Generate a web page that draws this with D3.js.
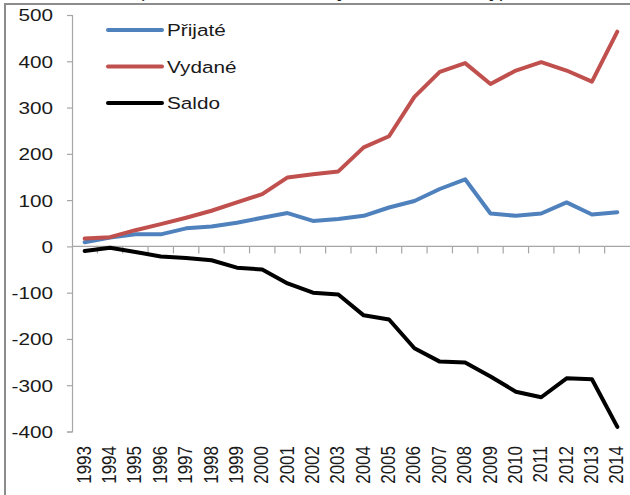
<!DOCTYPE html>
<html lang="cs">
<head>
<meta charset="utf-8">
<title>Přijaté, vydané, saldo</title>
<script src="https://d3js.org/d3.v7.min.js"></script>
<style>
  body { margin: 0; background: #fff; }
  svg text { font-family: "Liberation Sans", Arial, sans-serif; fill: #1a1a1a; }
</style>
</head>
<body>
<svg id="chart" width="630" height="495"></svg>
<script>
// data
var years = ["1993","1994","1995","1996","1997","1998","1999","2000","2001","2002","2003",
             "2004","2005","2006","2007","2008","2009","2010","2011","2012","2013","2014"];
var prijate = [9, 19, 26, 26, 39, 43, 51, 62, 72, 55, 59, 66, 84, 98, 124, 145, 71, 66, 71, 95, 69, 74];
var vydane  = [17, 20, 35, 48, 62, 77, 95, 113, 149, 156, 162, 214, 238, 323, 377, 396, 351, 380, 398, 380, 356, 464];
var saldo   = [-10, -3, -12, -22, -25, -30, -46, -50, -80, -100, -104, -149, -158, -220, -249, -251, -281, -314, -326, -285, -287, -390];
var yTicks = [500, 400, 300, 200, 100, 0, -100, -200, -300, -400];

var seriesNames = ["Přijaté", "Vydané", "Saldo"];
var seriesColors = ["#4f81bd", "#c0504d", "#000000"];
var seriesValues = [prijate, vydane, saldo];

var svg = d3.select("#chart");
var stretch = 1.22; // the reference text is wider than plain Arial

// outer frame (partly outside the picture)
svg.append("rect")
    .attr("x", 5).attr("y", 4)
    .attr("width", 700).attr("height", 600)
    .attr("fill", "none").attr("stroke", "#8c8c8c").attr("stroke-width", 2);

// title, mostly above the top edge like in the reference
svg.append("text")
    .attr("transform", "translate(322,-2) scale(" + stretch + ",1)")
    .attr("text-anchor", "middle")
    .style("font-size", "17px")
    .text("(v mld. Kč, běžné ceny a směnné kurzy)");

var x = d3.scaleBand().domain(years).range([72, 630]);
var y = d3.scaleLinear().domain([-400, 500]).range([431.5, 15]);

// y axis
var yAxis = svg.append("g")
    .attr("transform", "translate(72,0)")
    .call(d3.axisLeft(y).tickValues(yTicks).tickSize(5).tickPadding(16));
yAxis.select(".domain").attr("stroke", "#a6a6a6").attr("stroke-width", 1.2);
yAxis.selectAll(".tick line").attr("stroke", "#a6a6a6").attr("stroke-width", 1.2);
yAxis.selectAll(".tick text").remove();
yAxis.selectAll(".tick").append("text")
    .attr("transform", "translate(-19,0) scale(" + stretch + ",1)")
    .attr("text-anchor", "end")
    .attr("dy", "0.35em")
    .style("font-size", "17px")
    .text(function (d) { return d; });

// x axis line at zero with ticks between categories
var xLine = svg.append("g");
xLine.append("line")
    .attr("x1", 72).attr("x2", 630)
    .attr("y1", y(0)).attr("y2", y(0))
    .attr("stroke", "#a6a6a6").attr("stroke-width", 1.2);
xLine.selectAll(".xtick")
    .data(years.slice(1))
    .enter().append("line")
    .attr("class", "xtick")
    .attr("x1", function (d) { return x(d); })
    .attr("x2", function (d) { return x(d); })
    .attr("y1", y(0)).attr("y2", y(0) + 7)
    .attr("stroke", "#a6a6a6").attr("stroke-width", 1.2);

// year labels at the bottom, rotated
svg.selectAll(".year")
    .data(years)
    .enter().append("text")
    .attr("class", "year")
    .attr("transform", function (d) {
        return "translate(" + (x(d) + x.bandwidth() / 2 + 6) + ",446) scale(" + stretch + ",1) rotate(-90)";
    })
    .attr("text-anchor", "end")
    .style("font-size", "17px")
    .text(function (d) { return d; });

// lines
var line = d3.line()
    .x(function (d, i) { return x(years[i]) + x.bandwidth() / 2; })
    .y(function (d) { return y(d); });

seriesValues.forEach(function (vals, k) {
    svg.append("path")
        .datum(vals)
        .attr("d", line)
        .attr("fill", "none")
        .attr("stroke", seriesColors[k])
        .attr("stroke-width", 4)
        .attr("stroke-linejoin", "round")
        .attr("stroke-linecap", "round");
});

// legend
var legend = svg.selectAll(".legend")
    .data(seriesNames)
    .enter().append("g")
    .attr("class", "legend")
    .attr("transform", function (d, i) { return "translate(108," + (30 + i * 36.5) + ")"; });
legend.append("line")
    .attr("x1", 0).attr("x2", 54)
    .attr("stroke", function (d, i) { return seriesColors[i]; })
    .attr("stroke-width", 4)
    .attr("stroke-linecap", "round");
legend.append("text")
    .attr("transform", "translate(59,0) scale(" + stretch + ",1)")
    .attr("dy", "0.36em")
    .style("font-size", "17px")
    .text(function (d) { return d; });
</script>
</body>
</html>
